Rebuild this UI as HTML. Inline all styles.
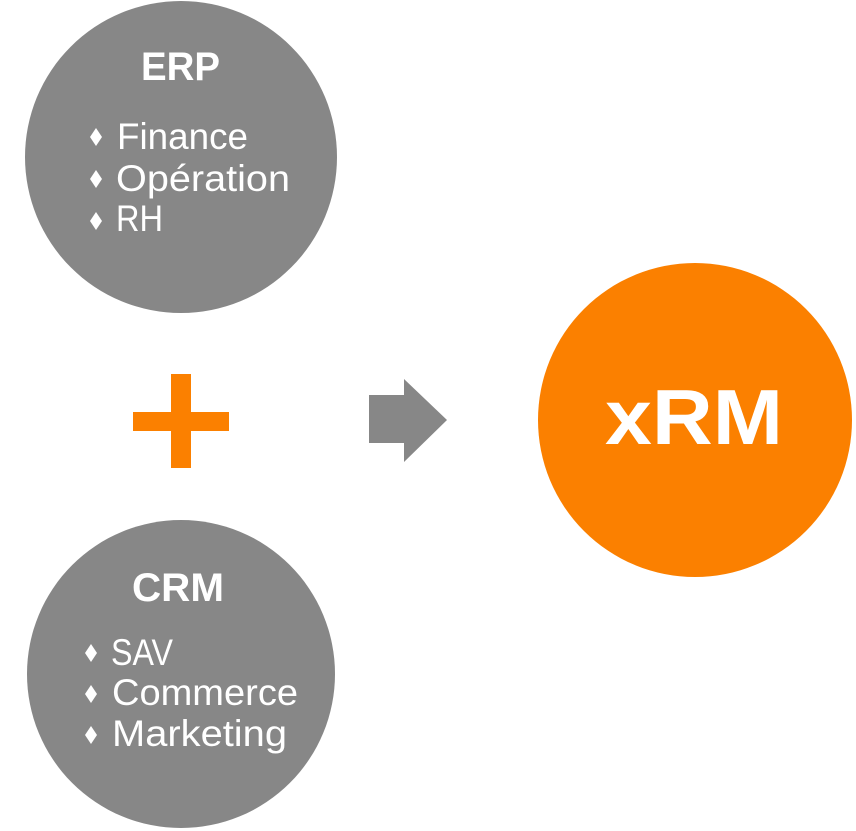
<!DOCTYPE html>
<html>
<head>
<meta charset="utf-8">
<style>
  html, body { margin: 0; padding: 0; background: #ffffff; }
  svg { display: block; }
  .t { font-family: "Liberation Sans", sans-serif; fill: #ffffff; }
</style>
</head>
<body>
<svg width="856" height="831" viewBox="0 0 856 831" xmlns="http://www.w3.org/2000/svg">
  <rect width="856" height="831" fill="#ffffff"/>

  <!-- ERP circle -->
  <circle cx="181" cy="157" r="156" fill="#878787"/>
  <text class="t" x="141" y="80" font-size="40" font-weight="bold" textLength="79" lengthAdjust="spacingAndGlyphs">ERP</text>
  <polygon points="96,128 102,137 96,146 90,137" fill="#ffffff"/>
  <text class="t" x="117" y="149" font-size="37" textLength="131" lengthAdjust="spacingAndGlyphs">Finance</text>
  <polygon points="96,170 102,179 96,188 90,179" fill="#ffffff"/>
  <text class="t" x="116" y="191" font-size="37" textLength="174" lengthAdjust="spacingAndGlyphs">Opération</text>
  <polygon points="96,212 102,221 96,230 90,221" fill="#ffffff"/>
  <text class="t" x="116" y="231" font-size="37" textLength="47" lengthAdjust="spacingAndGlyphs">RH</text>

  <!-- Plus -->
  <rect x="171" y="374" width="20" height="94" fill="#fb8000"/>
  <rect x="133" y="412" width="96" height="19" fill="#fb8000"/>

  <!-- Arrow -->
  <polygon points="369,395 404,395 404,379 447,420 404,462 404,443 369,443" fill="#878787"/>

  <!-- xRM circle -->
  <circle cx="695" cy="420" r="157" fill="#fb8000"/>
  <text class="t" x="605" y="444" font-size="78" font-weight="bold" textLength="178" lengthAdjust="spacingAndGlyphs">xRM</text>

  <!-- CRM circle -->
  <circle cx="181" cy="674" r="154" fill="#878787"/>
  <text class="t" x="132" y="601" font-size="40" font-weight="bold" textLength="92" lengthAdjust="spacingAndGlyphs">CRM</text>
  <polygon points="91,644 97,653 91,662 85,653" fill="#ffffff"/>
  <text class="t" x="111" y="665" font-size="37" textLength="62" lengthAdjust="spacingAndGlyphs">SAV</text>
  <polygon points="91,685 97,694 91,703 85,694" fill="#ffffff"/>
  <text class="t" x="112" y="705" font-size="37" textLength="186" lengthAdjust="spacingAndGlyphs">Commerce</text>
  <polygon points="91,726 97,735 91,744 85,735" fill="#ffffff"/>
  <text class="t" x="112" y="746" font-size="37" textLength="175" lengthAdjust="spacingAndGlyphs">Marketing</text>
</svg>
</body>
</html>
